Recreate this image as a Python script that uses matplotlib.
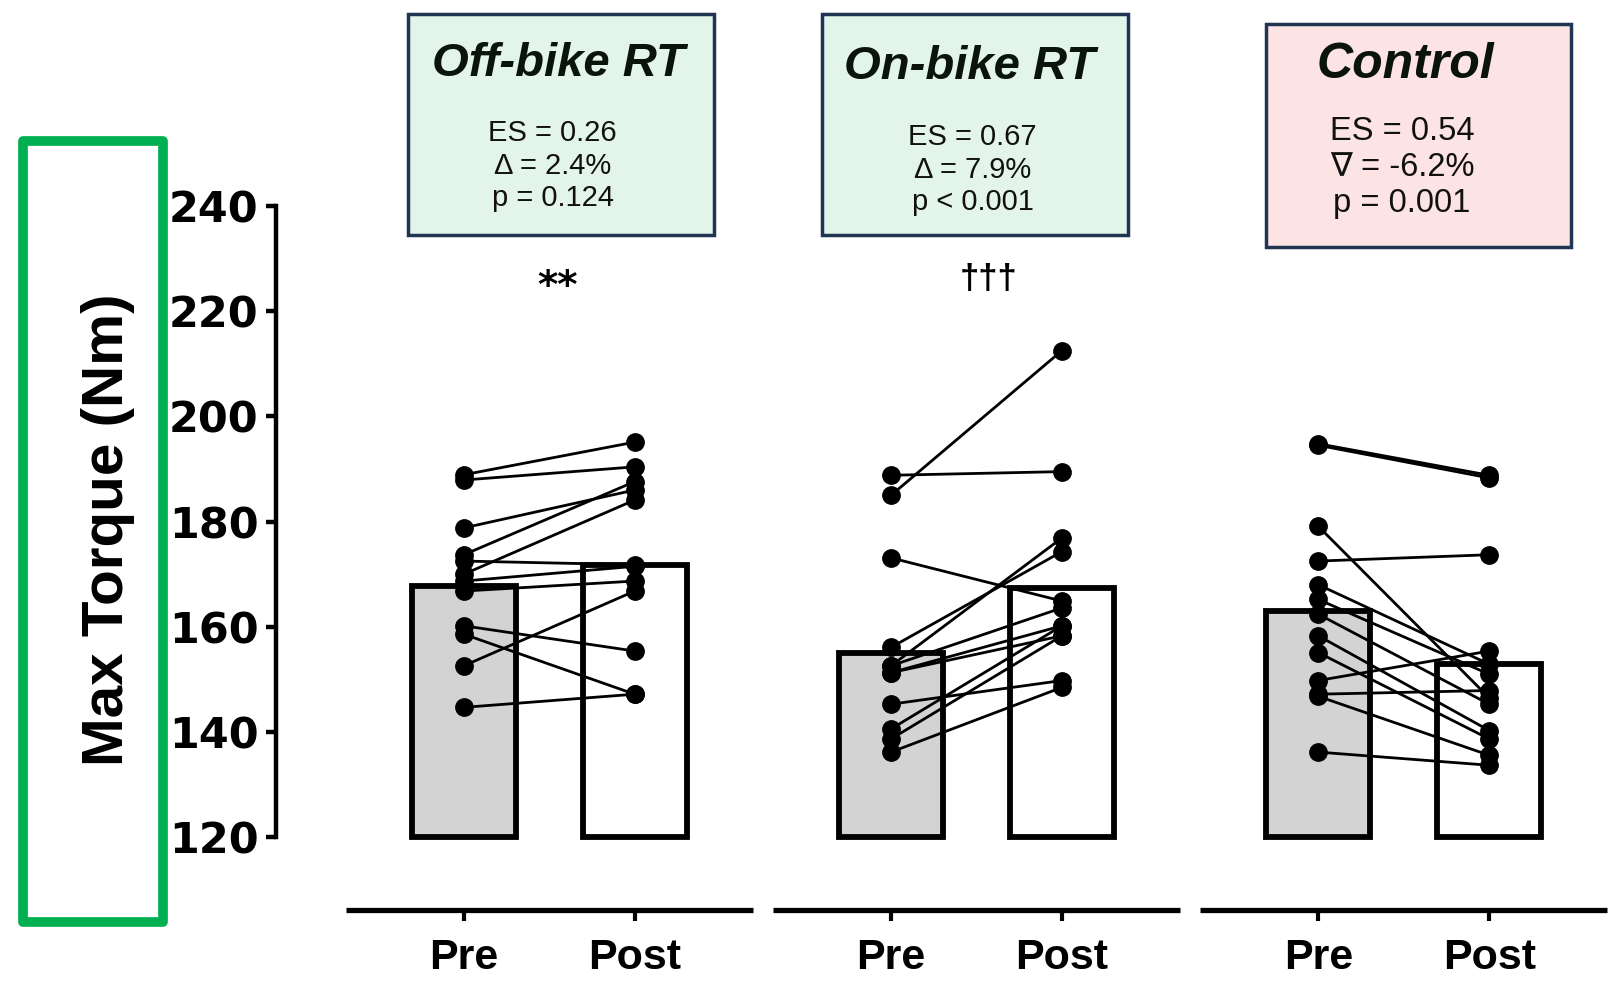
import matplotlib.pyplot as plt
from matplotlib.patches import Rectangle

# individual values (Nm)
off_pre = [188.9, 187.9, 178.8, 173.7, 170.0, 172.5, 168.7, 166.8, 160.2, 158.6, 152.6, 144.7]
off_post = [195.1, 190.4, 186.0, 187.6, 184.1, 171.8, 171.5, 168.7, 155.4, 147.2, 166.8, 147.2]
on_pre = [188.8, 185.0, 173.1, 156.1, 152.6, 152.6, 151.3, 151.3, 145.3, 140.6, 138.7, 136.2]
on_post = [189.5, 212.5, 164.9, 174.3, 176.9, 163.6, 160.2, 158.3, 149.8, 160.2, 158.3, 148.5]
con_pre = [194.8, 194.5, 179.1, 172.5, 168.0, 165.2, 162.4, 158.3, 155.1, 149.8, 147.2, 146.8, 136.2]
con_post = [188.8, 188.3, 146.5, 173.7, 152.9, 151.0, 145.3, 140.3, 138.7, 155.4, 147.9, 135.6, 133.7]

# group means (bar heights)
pre_means = [167.8, 155.1, 163.0]
post_means = [171.8, 167.4, 152.9]

groups = ['Off-bike RT', 'On-bike RT', 'Control']
stats = ['ES = 0.26\nΔ = 2.4%\np = 0.124',
         'ES = 0.67\nΔ = 7.9%\np < 0.001',
         'ES = 0.54\n∇ = -6.2%\np = 0.001']
sig_marks = ['**', '†††']
yticks = [120, 140, 160, 180, 200, 220, 240]

pre_x = [0, 2.5, 5]
post_x = [1, 3.5, 6]

fig = plt.figure(figsize=(16.14, 9.83), dpi=100)
ax = fig.add_axes([0.1709, 0.0743, 0.8259, 0.7163])
ax.set_xlim(-1.10, 6.70)
ax.set_ylim(106.2, 240)

# bars
ax.bar(pre_x, [m - 120 for m in pre_means], bottom=120, width=0.61, color='#d3d3d3',
       edgecolor='black', linewidth=4.2, zorder=1)
ax.bar(post_x, [m - 120 for m in post_means], bottom=120, width=0.61, color='white',
       edgecolor='black', linewidth=4.2, zorder=1)

# individual lines and dots
for i, (pre, post) in enumerate([(off_pre, off_post), (on_pre, on_post), (con_pre, con_post)]):
    for a, b in zip(pre, post):
        ax.plot([pre_x[i], post_x[i]], [a, b], color='black', lw=2.0, zorder=2)
    ax.plot([pre_x[i]] * len(pre), pre, 'o', color='black', ms=12.5, zorder=3)
    ax.plot([post_x[i]] * len(post), post, 'o', color='black', ms=12.5, zorder=3)

# axes styling
for s in ['top', 'right', 'bottom']:
    ax.spines[s].set_visible(False)
ax.spines['left'].set_bounds(120, 240)
ax.spines['left'].set_linewidth(3.2)
ax.set_yticks(yticks)
ax.set_yticklabels([str(t) for t in yticks], fontsize=31, fontweight='heavy', family='DejaVu Sans')
ax.tick_params(axis='y', length=7.5, width=3.2, pad=5)

# separate x axis line per group
for c in [0.5, 3.0, 5.5]:
    ax.plot([c - 1.19, c + 1.19], [106.2, 106.2], color='black', lw=3.8,
            solid_capstyle='butt', clip_on=False, zorder=4)
ax.set_xticks(pre_x + post_x)
ax.set_xticklabels(['Pre'] * 3 + ['Post'] * 3, fontsize=31, fontweight='bold', family='Liberation Sans')
ax.tick_params(axis='x', length=8, width=3, pad=12)

ax.text(0.55, 224.5, sig_marks[0], ha='center', va='center', fontsize=28, fontweight='bold')
ax.text(3.07, 226, sig_marks[1], ha='center', va='center', fontsize=25, fontweight='bold',
        family='Liberation Sans')

# y label inside green frame
fig.add_artist(Rectangle((0.01403, 0.0618), 0.0867, 0.7947, transform=fig.transFigure,
                         fill=False, edgecolor='#00B050', lw=7, joinstyle='round'))
fig.text(0.067, 0.4607, 'Max Torque (Nm)', rotation=90, ha='center', va='center',
         fontsize=42, fontweight='bold', family='Liberation Sans')

# annotation boxes
box_x = [0.2529, 0.5092, 0.7841]
box_y = [0.7607, 0.7607, 0.7492]
box_h = [0.2251, 0.2251, 0.2262]
box_col = ['#e3f5ea', '#e3f5ea', '#fde4e4']
title_pos = [(0.3463, 0.9351), (0.6008, 0.9319), (0.8705, 0.934)]
stat_pos = [(0.3425, 0.8314), (0.6027, 0.8272), (0.8686, 0.8293)]
stat_size = [21, 21, 23.5]
title_size = [34, 34, 36]

for i in range(3):
    fig.add_artist(Rectangle((box_x[i], box_y[i]), 0.1894, box_h[i], transform=fig.transFigure,
                             facecolor=box_col[i], edgecolor='#1f3552', lw=2.5))
    fig.text(title_pos[i][0], title_pos[i][1], groups[i], ha='center', va='center',
             fontsize=title_size[i], fontweight='bold', style='italic', color='#0a140a',
             family='Liberation Sans')
    fig.text(stat_pos[i][0], stat_pos[i][1], stats[i], ha='center', va='center',
             fontsize=stat_size[i], linespacing=1.2, color='#111111',
             family=['Liberation Sans', 'DejaVu Sans'])

plt.savefig('out.png', dpi=100)
